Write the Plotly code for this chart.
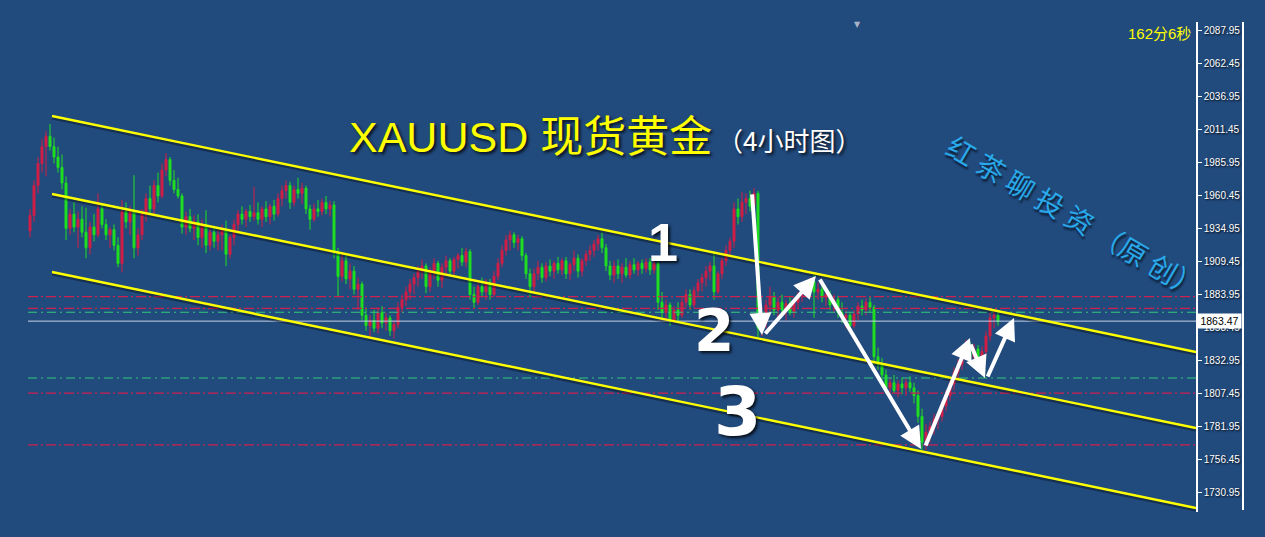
import plotly.graph_objects as go

# ---------------- data (4h XAUUSD bars) ----------------
opens = [1933,1945,1968,1985,1998,2006,1998,1990,1982,1970,
         1935,1946,1936,1942,1932,1920,1936,1930,1950,1938,1930,1934,1922,
         1908,1948,1940,1948,1920,1930,1946,1958,1950,1968,1960,1980,1988,
         1972,1965,1960,1936,1944,1935,1940,1928,1938,1922,1932,1925,1930,1934,1915,1928,1938,1946,1942,1948,1944,1947,1942,1950,1944,1952,
         1946,1958,1964,1968,1955,1965,1962,1966,1950,1942,1950,1948,1955,1950,
         1953,1916,1898,1910,1896,1902,1888,1892,1868,1860,1864,1858,1870,1862,1866,1856,1861,1874,1880,1886,1892,
         1897,1902,1906,1890,1902,1908,1895,1905,1910,1902,1911,1914,1909,1917,1884,1878,1890,1886,1893,1884,1898,1908,1918,1926,
         1930,1924,1927,1914,1900,1890,1900,1905,1897,1906,1902,1908,1903,1910,1900,1907,1912,1902,1910,1915,1918,1923,1927,1920,1906,1899,1906,1900,1905,1899,1907,1903,1908,1904,1909,1903,1908,
         1878,1870,1876,1864,1872,1868,1878,1884,1876,1887,1893,1897,1902,1906,1886,1900,1910,1918,1925,1950,1944,1955,1958,1952,1962,1858,
         1862,1876,1882,1872,1878,1872,1877,1870,1878,1883,1887,1890,1894,1886,1888,1882,1884,1876,1880,1870,1866,1868,1860,1869,1875,1872,1878,
         1874,1836,1830,1822,1812,1816,1810,1815,1812,1816,1812,1806,1790,1770,
         1778,1782,1788,1790,1798,1806,1815,1824,1830,1838,1845,1836,1842,1834,1840,1852,1866,1868]
highs = [1950,1972,1990,2004,2010,2015.5,2005,1998,1992,1975,
         1950,1955,1948,1952,1951,1940,1946,1962,1953,1942,1936,1938,1928,
         1957,1955,1952,1976,1935,1950,1962,1968,1972,1978,1985,1993,1990,
         1980,1974,1962,1948,1950,1945,1946,1942,1949,1935,1936,1934,1938,1941,1930,1942,1949,1952,1950,1953,1967,1955,1952,1956,1954,1957,
         1962,1968,1972,1971,1968,1974,1970,1968,1953,1954,1957,1958,1960,1956,
         1956,1920,1916,1914,1908,1906,1897,1894,1874,1868,1872,1874,1875,1870,1868,1864,1878,1884,1890,1896,1900,
         1906,1911,1908,1905,1912,1910,1908,1914,1912,1913,1916,1920,1920,1919,1890,1893,1897,1896,1896,1902,1912,1922,1930,1933,
         1932,1930,1929,1916,1904,1904,1910,1908,1909,1911,1910,1913,1912,1913,1909,1918,1915,1912,1918,1922,1926,1930,1932,1923,1910,1910,1911,1908,1912,1910,1912,1910,1911,1912,1912,1911,1911,
         1886,1880,1878,1875,1878,1882,1888,1888,1890,1896,1900,1906,1909,1917,1902,1912,1922,1928,1955,1958,1963,1962,1964,1966,1964,1866,
         1880,1890,1886,1882,1884,1880,1882,1881,1886,1890,1893,1897,1899,1893,1892,1888,1887,1884,1883,1878,1872,1870,1872,1878,1880,1881,1882,
         1876,1843,1835,1826,1820,1822,1818,1820,1819,1821,1816,1810,1796,1784,
         1786,1792,1794,1802,1810,1818,1828,1834,1843,1849,1847,1846,1845,1844,1856,1870,1872,1870]
lows = [1928,1940,1962,1978,1975,1995,1985,1978,1965,1926,
        1930,1932,1920,1928,1912,1915,1925,1928,1935,1926,1920,1918,1905,
        1901,1935,1930,1912,1914,1926,1940,1945,1946,1955,1958,1975,1968,
        1962,1958,1931,1930,1932,1926,1922,1920,1916,1918,1920,1918,1918,1906,1912,1922,1932,1938,1936,1940,1941,1938,1936,1940,1938,1941,
        1944,1952,1958,1950,1952,1958,1954,1946,1934,1940,1944,1945,1946,1944,
        1912,1882,1894,1892,1888,1884,1872,1864,1856,1851,1855,1854,1858,1856,1852,1850,1858,1870,1875,1880,1884,
        1890,1896,1885,1886,1896,1890,1889,1900,1898,1898,1904,1906,1905,1880,1873,1876,1882,1880,1880,1882,1895,1905,1914,1918,
        1920,1918,1910,1896,1882,1886,1895,1893,1894,1898,1896,1900,1899,1896,1895,1902,1897,1898,1906,1910,1913,1918,1916,1902,1895,1893,1896,1893,1897,1896,1900,1898,1900,1901,1899,1900,1872,
        1866,1864,1860,1862,1863,1866,1874,1872,1874,1882,1886,1890,1895,1880,1884,1896,1906,1914,1920,1938,1940,1946,1948,1945,1851,1852,
        1858,1870,1868,1866,1868,1864,1868,1866,1874,1878,1882,1885,1866,1880,1878,1875,1872,1870,1866,1862,1858,1856,1858,1864,1868,1868,1870,
        1830,1826,1818,1808,1805,1808,1805,1807,1806,1809,1800,1785,1764,1764,
        1770,1776,1780,1786,1794,1802,1810,1818,1826,1834,1832,1830,1828,1830,1838,1848,1858,1860]
closes = [1945,1968,1985,1998,2006,1998,1990,1982,1970,1935,
          1946,1936,1942,1932,1920,1936,1930,1950,1938,1930,1934,1922,1908,
          1948,1940,1948,1920,1930,1946,1958,1950,1968,1960,1980,1988,1972,
          1965,1960,1936,1944,1935,1940,1928,1938,1922,1932,1925,1930,1934,1915,1928,1938,1946,1942,1948,1944,1947,1942,1950,1944,1952,1946,
          1958,1964,1968,1955,1965,1962,1966,1950,1942,1950,1948,1955,1950,1953,
          1916,1898,1910,1896,1902,1888,1892,1868,1860,1864,1858,1870,1862,1866,1856,1861,1874,1880,1886,1892,1897,
          1902,1906,1890,1902,1908,1895,1905,1910,1902,1911,1914,1909,1917,1884,1878,1890,1886,1893,1884,1898,1908,1918,1926,1930,
          1924,1927,1914,1900,1890,1900,1905,1897,1906,1902,1908,1903,1910,1900,1907,1912,1902,1910,1915,1918,1923,1927,1920,1906,1899,1906,1900,1905,1899,1907,1903,1908,1904,1909,1903,1908,1878,
          1870,1876,1864,1872,1868,1878,1884,1876,1887,1893,1897,1902,1906,1886,1900,1910,1918,1925,1950,1944,1955,1958,1952,1962,1858,1862,
          1876,1882,1872,1878,1872,1877,1870,1878,1883,1887,1890,1894,1886,1888,1882,1884,1876,1880,1870,1866,1868,1860,1869,1875,1872,1878,1874,
          1836,1830,1822,1812,1816,1810,1815,1812,1816,1812,1806,1790,1770,1778,
          1782,1788,1790,1798,1806,1815,1824,1830,1838,1845,1836,1842,1834,1840,1852,1866,1868,1863.47]
bar_index = list(range(len(closes)))

tick_values = [2087.95, 2062.45, 2036.95, 2011.45, 1985.95, 1960.45, 1934.95, 1909.45,
               1883.95, 1858.45, 1832.95, 1807.45, 1781.95, 1756.45, 1730.95]
tick_labels = ["2087.95", "2062.45", "2036.95", "2011.45", "1985.95", "1960.45", "1934.95", "1909.45",
               "1883.95", "1858.45", "1832.95", "1807.45", "1781.95", "1756.45", "1730.95"]

# descending channel (bar index, price)
channel_x = [5.5, 291.5]
channel_upper = [2021.6, 1839.7]
channel_middle = [1961.5, 1781.1]
channel_lower = [1901.35, 1719.4]

# horizontal levels
level_x = [-0.5, 291.5]
red_levels = [1882.3, 1873.3, 1808.0, 1768.0]
green_levels = [1870.3, 1819.6]
last_price = 1863.47

# hand-drawn arrows (bar index, price)
arrow_tail_x = [180.5, 183.5, 197.25, 223.75, 235.0, 239.25]
arrow_tail_y = [1962.3, 1852.8, 1896.7, 1766.4, 1846.6, 1819.6]
arrow_tip_x = [183.0, 196.5, 222.75, 235.0, 238.75, 246.0]
arrow_tip_y = [1852.8, 1898.3, 1764.9, 1850.5, 1819.6, 1865.9]

# ---------------- styling ----------------
BG = "#214a7d"
UP = "#d21e46"
DOWN = "#1fe01f"
YELLOW = "#ffff00"

PL, PR, PT, PB = 0, 1196, 22, 512
def px(x):
    return (x - PL) / (PR - PL)
def py(y):
    return (PB - y) / (PB - PT)

fig = go.Figure()

for lv in red_levels:
    fig.add_trace(go.Scatter(x=level_x, y=[lv, lv], mode="lines",
                             line=dict(color="#cf2150", width=1.3, dash="10px,3px,2px,3px"),
                             hoverinfo="skip", showlegend=False))
for lv in green_levels:
    fig.add_trace(go.Scatter(x=level_x, y=[lv, lv], mode="lines",
                             line=dict(color="#33c77c", width=1.2, dash="9px,4px,2px,4px"),
                             hoverinfo="skip", showlegend=False))
fig.add_trace(go.Scatter(x=level_x, y=[last_price, last_price], mode="lines",
                         line=dict(color="#c9d3e6", width=1),
                         hoverinfo="skip", showlegend=False))

fig.add_trace(go.Candlestick(
    x=bar_index, open=opens, high=highs, low=lows, close=closes,
    increasing=dict(line=dict(color=UP, width=1), fillcolor=UP),
    decreasing=dict(line=dict(color=DOWN, width=1), fillcolor=DOWN),
    whiskerwidth=0, hoverinfo="skip", showlegend=False))

for ys in (channel_upper, channel_middle, channel_lower):
    fig.add_trace(go.Scatter(x=channel_x, y=[v - 1.6 for v in ys], mode="lines",
                             line=dict(color="rgba(0,0,0,0.35)", width=3),
                             hoverinfo="skip", showlegend=False))
    fig.add_trace(go.Scatter(x=channel_x, y=ys, mode="lines",
                             line=dict(color=YELLOW, width=2.4),
                             hoverinfo="skip", showlegend=False))

ann = []
for tx, ty, hx, hy in zip(arrow_tail_x, arrow_tail_y, arrow_tip_x, arrow_tip_y):
    ann.append(dict(x=hx, y=hy, ax=tx, ay=ty, xref="x", yref="y", axref="x", ayref="y",
                    text="", showarrow=True, arrowhead=2, arrowsize=1.1, arrowwidth=4,
                    arrowcolor="white", standoff=0, startstandoff=0))

shadow = "2px 2px 3px rgba(0,0,0,0.8)"
ann += [
    dict(x=px(530), y=py(137), xref="paper", yref="paper", showarrow=False,
         text="XAUUSD 现货黄金", xanchor="center", yanchor="middle",
         font=dict(family="Liberation Sans, Noto Sans CJK SC", size=43, color=YELLOW, shadow=shadow)),
    dict(x=px(789), y=py(139), xref="paper", yref="paper", showarrow=False,
         text="（4小时图）", xanchor="center", yanchor="middle",
         font=dict(family="Noto Sans CJK SC", size=26, color="white", shadow=shadow)),
    dict(x=px(1193), y=py(34), xref="paper", yref="paper", showarrow=False,
         text="162分6秒", xanchor="right", yanchor="middle",
         font=dict(family="Liberation Sans, Noto Sans CJK SC", size=15, color=YELLOW)),
    dict(x=px(857), y=py(24), xref="paper", yref="paper", showarrow=False,
         text="▼", xanchor="center", yanchor="middle",
         font=dict(family="DejaVu Sans", size=8, color="#aab4c8")),
    dict(x=px(1075), y=py(216), xref="paper", yref="paper", showarrow=False,
         text="红 茶 聊 投 资 （原 创）", textangle=30.4, xanchor="center", yanchor="middle",
         font=dict(family="Noto Sans CJK SC", size=28, color="#29a9ea", shadow="2px 2px 2px rgba(0,0,0,0.6)")),
    dict(x=px(663), y=py(242), xref="paper", yref="paper", showarrow=False,
         text="1", xanchor="center", yanchor="middle",
         font=dict(family="Liberation Sans", size=54, color="white", weight="bold", shadow=shadow)),
    dict(x=px(714), y=py(331), xref="paper", yref="paper", showarrow=False,
         text="2", xanchor="center", yanchor="middle",
         font=dict(family="DejaVu Sans", size=58, color="white", weight="bold", shadow=shadow)),
    dict(x=px(737), y=py(411), xref="paper", yref="paper", showarrow=False,
         text="3", xanchor="center", yanchor="middle",
         font=dict(family="DejaVu Sans", size=68, color="white", weight="bold", shadow=shadow)),
    dict(x=px(1197), y=last_price, xref="paper", yref="y", showarrow=False,
         text="1863.47", xanchor="left", yanchor="middle", bgcolor="white", borderpad=1, width=41,
         font=dict(family="Liberation Sans", size=10.5, color="black")),
]

fig.update_layout(
    width=1265, height=537, autosize=False,
    margin=dict(l=PL, r=1265 - PR, t=PT, b=537 - PB, pad=0),
    paper_bgcolor=BG, plot_bgcolor=BG, showlegend=False,
    xaxis=dict(range=[-7.5, 291.5], visible=False, rangeslider=dict(visible=False),
               showgrid=False, zeroline=False),
    yaxis=dict(side="right", range=[1716.29, 2094.12], tickvals=tick_values, ticktext=tick_labels,
               ticks="outside", ticklen=4, tickcolor="white", tickwidth=1,
               showline=True, linecolor="white", linewidth=1.5, showgrid=False, zeroline=False,
               tickfont=dict(family="Liberation Sans", size=10, color="white",
                             shadow="1px 1px 2px rgba(0,0,0,0.9)")),
    annotations=ann,
    shapes=[dict(type="line", xref="paper", yref="paper", x0=px(1243), x1=px(1243),
                 y0=py(510), y1=1, line=dict(color="white", width=2))],
)

fig.write_html(
    "out.html",
    config={"displayModeBar": False},
    post_script="document.body.style.margin='0';document.body.style.overflow='hidden';",
)
